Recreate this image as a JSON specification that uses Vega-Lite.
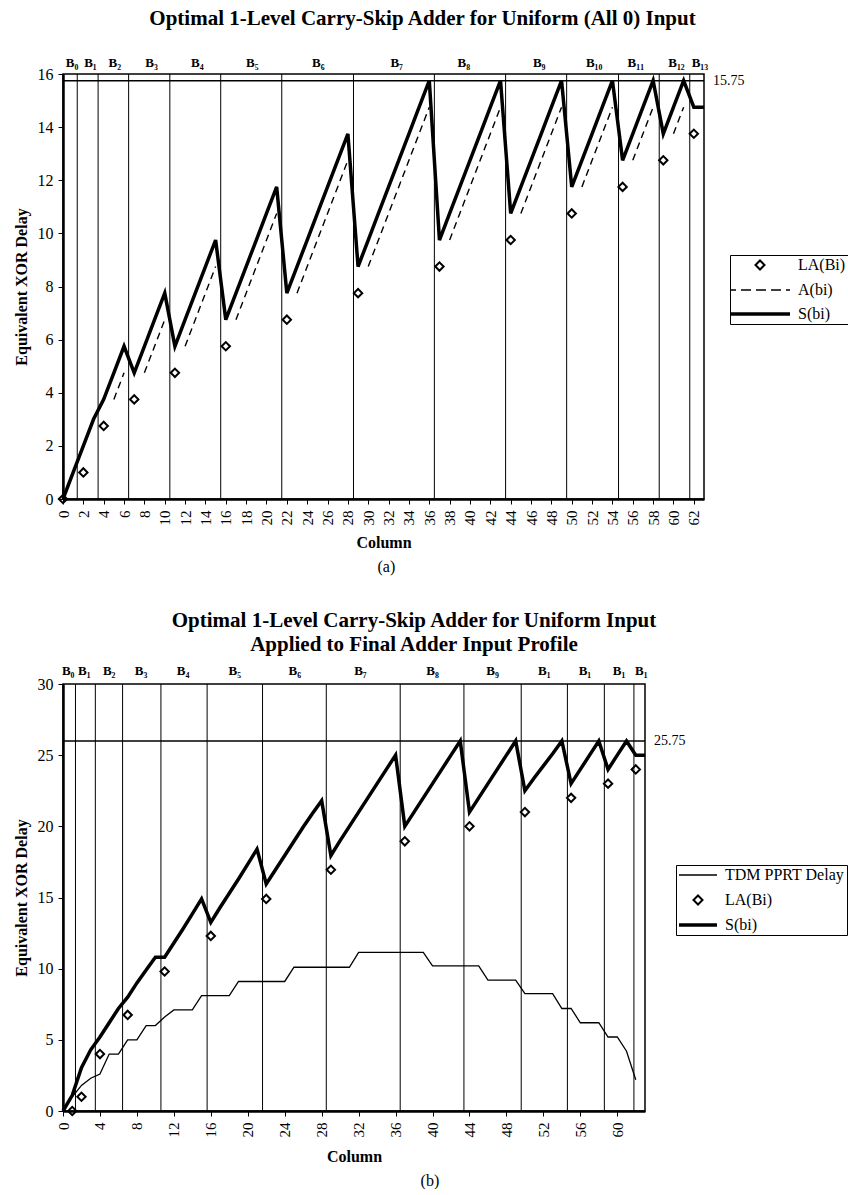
{
  "$schema": "https://vega.github.io/schema/vega-lite/v6.json",
  "padding": {"left": 12, "top": 6, "right": 0, "bottom": 0},
  "background": "white",
  "config": {
    "font": "Liberation Serif",
    "view": {"stroke": "black", "strokeWidth": 1.5},
    "axis": {"grid": false, "domainColor": "black", "domainWidth": 2.5, "tickColor": "black", "tickSize": 5, "labelColor": "black", "titleColor": "black", "labelFont": "Liberation Serif", "titleFont": "Liberation Serif", "titleFontWeight": "bold", "titleFontSize": 16},
    "title": {"font": "Liberation Serif", "color": "black"},
    "legend": {"labelFont": "Liberation Serif", "labelColor": "black"}
  },
  "resolve": {"scale": {"color": "independent"}, "legend": {"color": "independent"}},
  "datasets": {
    "topS": [{"c":0,"v":0},{"c":1,"v":1},{"c":2,"v":2},{"c":3,"v":3},{"c":4,"v":3.75},{"c":5,"v":4.75},{"c":6,"v":5.75},{"c":7,"v":4.75},{"c":8,"v":5.75},{"c":9,"v":6.75},{"c":10,"v":7.75},{"c":11,"v":5.75},{"c":12,"v":6.75},{"c":13,"v":7.75},{"c":14,"v":8.75},{"c":15,"v":9.75},{"c":16,"v":6.75},{"c":17,"v":7.75},{"c":18,"v":8.75},{"c":19,"v":9.75},{"c":20,"v":10.75},{"c":21,"v":11.75},{"c":22,"v":7.75},{"c":23,"v":8.75},{"c":24,"v":9.75},{"c":25,"v":10.75},{"c":26,"v":11.75},{"c":27,"v":12.75},{"c":28,"v":13.75},{"c":29,"v":8.75},{"c":30,"v":9.75},{"c":31,"v":10.75},{"c":32,"v":11.75},{"c":33,"v":12.75},{"c":34,"v":13.75},{"c":35,"v":14.75},{"c":36,"v":15.75},{"c":37,"v":9.75},{"c":38,"v":10.75},{"c":39,"v":11.75},{"c":40,"v":12.75},{"c":41,"v":13.75},{"c":42,"v":14.75},{"c":43,"v":15.75},{"c":44,"v":10.75},{"c":45,"v":11.75},{"c":46,"v":12.75},{"c":47,"v":13.75},{"c":48,"v":14.75},{"c":49,"v":15.75},{"c":50,"v":11.75},{"c":51,"v":12.75},{"c":52,"v":13.75},{"c":53,"v":14.75},{"c":54,"v":15.75},{"c":55,"v":12.75},{"c":56,"v":13.75},{"c":57,"v":14.75},{"c":58,"v":15.75},{"c":59,"v":13.75},{"c":60,"v":14.75},{"c":61,"v":15.75},{"c":62,"v":14.75},{"c":63,"v":14.75}],
    "topA": [{"c":5,"v":3.75,"g":1},{"c":6,"v":4.75,"g":1},
      {"c":8,"v":4.75,"g":2},{"c":9,"v":5.75,"g":2},{"c":10,"v":6.75,"g":2},
      {"c":12,"v":5.75,"g":3},{"c":13,"v":6.75,"g":3},{"c":14,"v":7.75,"g":3},{"c":15,"v":8.75,"g":3},
      {"c":17,"v":6.75,"g":4},{"c":18,"v":7.75,"g":4},{"c":19,"v":8.75,"g":4},{"c":20,"v":9.75,"g":4},{"c":21,"v":10.75,"g":4},
      {"c":23,"v":7.75,"g":5},{"c":24,"v":8.75,"g":5},{"c":25,"v":9.75,"g":5},{"c":26,"v":10.75,"g":5},{"c":27,"v":11.75,"g":5},{"c":28,"v":12.75,"g":5},
      {"c":30,"v":8.75,"g":6},{"c":31,"v":9.75,"g":6},{"c":32,"v":10.75,"g":6},{"c":33,"v":11.75,"g":6},{"c":34,"v":12.75,"g":6},{"c":35,"v":13.75,"g":6},{"c":36,"v":14.75,"g":6},
      {"c":38,"v":9.75,"g":7},{"c":39,"v":10.75,"g":7},{"c":40,"v":11.75,"g":7},{"c":41,"v":12.75,"g":7},{"c":42,"v":13.75,"g":7},{"c":43,"v":14.75,"g":7},
      {"c":45,"v":10.75,"g":8},{"c":46,"v":11.75,"g":8},{"c":47,"v":12.75,"g":8},{"c":48,"v":13.75,"g":8},{"c":49,"v":14.75,"g":8},
      {"c":51,"v":11.75,"g":9},{"c":52,"v":12.75,"g":9},{"c":53,"v":13.75,"g":9},{"c":54,"v":14.75,"g":9},
      {"c":56,"v":12.75,"g":10},{"c":57,"v":13.75,"g":10},{"c":58,"v":14.75,"g":10},
      {"c":60,"v":13.75,"g":11},{"c":61,"v":14.75,"g":11}],
    "topLA": [{"c":0,"v":0},{"c":2,"v":1},{"c":4,"v":2.75},{"c":7,"v":3.75},{"c":11,"v":4.75},{"c":16,"v":5.75},{"c":22,"v":6.75},{"c":29,"v":7.75},{"c":37,"v":8.75},{"c":44,"v":9.75},{"c":50,"v":10.75},{"c":55,"v":11.75},{"c":59,"v":12.75},{"c":62,"v":13.75}],
    "topBounds": [{"c":1.4},{"c":3.45},{"c":6.45},{"c":10.5},{"c":15.5},{"c":21.5},{"c":28.55},{"c":36.5},{"c":43.5},{"c":49.5},{"c":54.6},{"c":58.6},{"c":61.6}],
    "topBlocks": [{"c":0.89,"t":"B₀"},{"c":2.7,"t":"B₁"},{"c":5.1,"t":"B₂"},{"c":8.7,"t":"B₃"},{"c":13.2,"t":"B₄"},{"c":18.6,"t":"B₅"},{"c":25.1,"t":"B₆"},{"c":32.8,"t":"B₇"},{"c":39.4,"t":"B₈"},{"c":46.8,"t":"B₉"},{"c":52.2,"t":"B₁₀"},{"c":56.3,"t":"B₁₁"},{"c":60.3,"t":"B₁₂"},{"c":62.6,"t":"B₁₃"}],
    "topRef": [{"c":63,"v":15.75,"t":"15.75"}],
    "botS": [{"c":0,"v":0},{"c":1,"v":1.1},{"c":2,"v":3.05},{"c":3,"v":4.3},{"c":4,"v":5.2},{"c":5,"v":6.2},{"c":6,"v":7.2},{"c":7,"v":8.0},{"c":8,"v":9.0},{"c":9,"v":9.9},{"c":10,"v":10.8},{"c":11,"v":10.8},{"c":12,"v":11.8},{"c":13,"v":12.8},{"c":14,"v":13.85},{"c":15,"v":14.9},{"c":16,"v":13.25},{"c":17,"v":14.3},{"c":18,"v":15.3},{"c":19,"v":16.3},{"c":20,"v":17.35},{"c":21,"v":18.4},{"c":22,"v":15.95},{"c":23,"v":16.95},{"c":24,"v":17.95},{"c":25,"v":18.95},{"c":26,"v":19.95},{"c":27,"v":20.9},{"c":28,"v":21.8},{"c":29,"v":17.95},{"c":30,"v":19},{"c":31,"v":20},{"c":32,"v":21},{"c":33,"v":22},{"c":34,"v":23},{"c":35,"v":24},{"c":36,"v":25},{"c":37,"v":20},{"c":38,"v":21},{"c":39,"v":22},{"c":40,"v":23},{"c":41,"v":24},{"c":42,"v":25},{"c":43,"v":26},{"c":44,"v":21},{"c":45,"v":22},{"c":46,"v":23},{"c":47,"v":24},{"c":48,"v":25},{"c":49,"v":26},{"c":50,"v":22.5},{"c":51,"v":23.4},{"c":52,"v":24.25},{"c":53,"v":25.1},{"c":54,"v":26},{"c":55,"v":23},{"c":56,"v":24},{"c":57,"v":25},{"c":58,"v":26},{"c":59,"v":24},{"c":60,"v":25},{"c":61,"v":26},{"c":62,"v":25},{"c":63,"v":25}],
    "botT": [{"c":0,"v":0},{"c":1,"v":1.0},{"c":2,"v":1.8},{"c":3,"v":2.3},{"c":4,"v":2.6},{"c":5,"v":4.0},{"c":6,"v":4.0},{"c":7,"v":5.0},{"c":8,"v":5.0},{"c":9,"v":6.0},{"c":10,"v":6.0},{"c":11,"v":6.6},{"c":12,"v":7.1},{"c":13,"v":7.1},{"c":14,"v":7.1},{"c":15,"v":8.1},{"c":16,"v":8.1},{"c":17,"v":8.1},{"c":18,"v":8.1},{"c":19,"v":9.1},{"c":20,"v":9.1},{"c":21,"v":9.1},{"c":22,"v":9.1},{"c":23,"v":9.1},{"c":24,"v":9.1},{"c":25,"v":10.1},{"c":26,"v":10.1},{"c":27,"v":10.1},{"c":28,"v":10.1},{"c":29,"v":10.1},{"c":30,"v":10.1},{"c":31,"v":10.1},{"c":32,"v":11.15},{"c":33,"v":11.15},{"c":34,"v":11.15},{"c":35,"v":11.15},{"c":36,"v":11.15},{"c":37,"v":11.15},{"c":38,"v":11.15},{"c":39,"v":11.15},{"c":40,"v":10.2},{"c":41,"v":10.2},{"c":42,"v":10.2},{"c":43,"v":10.2},{"c":44,"v":10.2},{"c":45,"v":10.2},{"c":46,"v":9.2},{"c":47,"v":9.2},{"c":48,"v":9.2},{"c":49,"v":9.2},{"c":50,"v":8.25},{"c":51,"v":8.25},{"c":52,"v":8.25},{"c":53,"v":8.25},{"c":54,"v":7.2},{"c":55,"v":7.2},{"c":56,"v":6.2},{"c":57,"v":6.2},{"c":58,"v":6.2},{"c":59,"v":5.2},{"c":60,"v":5.2},{"c":61,"v":4.2},{"c":62,"v":2.2}],
    "botLA": [{"c":1,"v":0},{"c":2,"v":1},{"c":4,"v":4},{"c":7,"v":6.75},{"c":11,"v":9.8},{"c":16,"v":12.3},{"c":22,"v":14.9},{"c":29,"v":16.95},{"c":37,"v":18.95},{"c":44,"v":20},{"c":50,"v":21},{"c":55,"v":22},{"c":59,"v":23},{"c":62,"v":24}],
    "botBounds": [{"c":1.35},{"c":3.5},{"c":6.45},{"c":10.6},{"c":15.6},{"c":21.6},{"c":28.5},{"c":36.5},{"c":43.4},{"c":49.6},{"c":54.6},{"c":58.6},{"c":61.8}],
    "botBlocks": [{"c":0.56,"t":"B₀"},{"c":2.3,"t":"B₁"},{"c":5.0,"t":"B₂"},{"c":8.45,"t":"B₃"},{"c":13.0,"t":"B₄"},{"c":18.6,"t":"B₅"},{"c":25.1,"t":"B₆"},{"c":32.2,"t":"B₇"},{"c":40.0,"t":"B₈"},{"c":46.5,"t":"B₉"},{"c":52.1,"t":"B₁"},{"c":56.5,"t":"B₁"},{"c":60.2,"t":"B₁"},{"c":62.6,"t":"B₁"}],
    "botRef": [{"c":63,"v":26,"t":"25.75"}]
  },
  "spacing": 34,
  "vconcat": [
    {
      "title": {"text": "(a)", "orient": "bottom", "anchor": "middle", "fontSize": 16, "fontWeight": "normal", "offset": 8, "dx": -44},
      "vconcat": [
        {
          "title": {"text": "Optimal 1-Level Carry-Skip Adder for Uniform (All 0) Input", "anchor": "middle", "fontSize": 21, "fontWeight": "bold", "dx": 39, "offset": 28},
          "width": 641,
          "height": 425,
          "encoding": {
            "x": {"field": "c", "type": "quantitative", "scale": {"domain": [0, 63], "nice": false}, "axis": {"title": "Column", "values": [0,2,4,6,8,10,12,14,16,18,20,22,24,26,28,30,32,34,36,38,40,42,44,46,48,50,52,54,56,58,60,62], "labelAngle": -90, "labelFontSize": 15, "labelPadding": 6, "titlePadding": 9}}
          },
          "layer": [
            {"data": {"name": "topBounds"}, "mark": {"type": "rule", "color": "black", "strokeWidth": 1}, "encoding": {}},
            {"data": {"name": "topRef"}, "mark": {"type": "rule", "color": "black", "strokeWidth": 1.5},
             "encoding": {"x": null, "y": {"field": "v", "type": "quantitative", "scale": {"domain": [0, 16], "nice": false}, "axis": {"title": "Equivalent XOR Delay", "values": [0,2,4,6,8,10,12,14,16], "labelFontSize": 16, "labelPadding": 5, "titlePadding": 8}}}},
            {"data": {"name": "topRef"}, "mark": {"type": "text", "align": "left", "baseline": "middle", "dx": 9, "fontSize": 14, "color": "black", "clip": false},
             "encoding": {"y": {"field": "v", "type": "quantitative"}, "text": {"field": "t"}}},
            {"data": {"name": "topBlocks"}, "mark": {"type": "text", "align": "center", "baseline": "middle", "fontSize": 13, "fontWeight": "bold", "color": "black", "clip": false},
             "encoding": {"y": {"datum": 16.43, "type": "quantitative"}, "text": {"field": "t"}}},
            {"data": {"name": "topA"}, "mark": {"type": "line", "strokeWidth": 1.4, "strokeDash": [7, 5]},
             "encoding": {"y": {"field": "v", "type": "quantitative"}, "detail": {"field": "g"},
               "color": {"datum": "A(bi)", "scale": {"domain": ["LA(Bi)", "A(bi)", "S(bi)"], "range": ["black", "black", "black"]}}}},
            {"data": {"name": "topS"}, "mark": {"type": "line", "strokeWidth": 3.5},
             "encoding": {
               "y": {"field": "v", "type": "quantitative"},
               "color": {"datum": "S(bi)", "scale": {"domain": ["LA(Bi)", "A(bi)", "S(bi)"], "range": ["black", "black", "black"]},
                 "legend": {"orient": "none", "legendX": 667, "legendY": 181, "title": null, "strokeColor": "black", "fillColor": "white", "padding": 2, "symbolSize": 400, "symbolOffset": 20, "labelOffset": 30, "labelFontSize": 16, "rowPadding": 8,
                   "encode": {"symbols": {"update": {
                     "shape": {"signal": "datum.value === 'LA(Bi)' ? 'M0,-0.45L0.45,0L0,0.45L-0.45,0Z' : (datum.value === 'A(bi)' ? 'M-3,0L-2.4,0M-1.9,0L-0.9,0M-0.4,0L0.6,0M1.1,0L2.1,0M2.6,0L3,0' : 'M-3,0L3,0')"},
                     "strokeWidth": {"signal": "datum.value === 'S(bi)' ? 3.5 : (datum.value === 'LA(Bi)' ? 2 : 1.3)"},
                     "stroke": {"value": "black"},
                     "fill": {"value": "transparent"}}}}}}}},
            {"data": {"name": "topLA"}, "mark": {"type": "point", "shape": "diamond", "size": 70, "filled": false, "strokeWidth": 2, "opacity": 1},
             "encoding": {"y": {"field": "v", "type": "quantitative"},
               "color": {"datum": "LA(Bi)", "scale": {"domain": ["LA(Bi)", "A(bi)", "S(bi)"], "range": ["black", "black", "black"]}}}}
          ]
        }
      ]
    },
    {
      "title": {"text": "(b)", "orient": "bottom", "anchor": "middle", "fontSize": 16, "fontWeight": "normal", "offset": 8, "dx": 0},
      "vconcat": [
        {
          "title": {"text": ["Optimal 1-Level Carry-Skip Adder for Uniform Input", "Applied to Final Adder Input Profile"], "anchor": "middle", "fontSize": 21, "fontWeight": "bold", "lineHeight": 24, "dx": 60, "offset": 10},
          "width": 582,
          "height": 427,
          "encoding": {
            "x": {"field": "c", "type": "quantitative", "scale": {"domain": [0, 63], "nice": false}, "axis": {"title": "Column", "values": [0,4,8,12,16,20,24,28,32,36,40,44,48,52,56,60], "labelAngle": -90, "labelFontSize": 15, "labelPadding": 6, "titlePadding": 11}}
          },
          "layer": [
            {"data": {"name": "botBounds"}, "mark": {"type": "rule", "color": "black", "strokeWidth": 1}, "encoding": {}},
            {"data": {"name": "botRef"}, "mark": {"type": "rule", "color": "black", "strokeWidth": 1.5},
             "encoding": {"x": null, "y": {"field": "v", "type": "quantitative", "scale": {"domain": [0, 30], "nice": false}, "axis": {"title": "Equivalent XOR Delay", "values": [0,5,10,15,20,25,30], "labelFontSize": 16, "labelPadding": 5, "titlePadding": 8}}}},
            {"data": {"name": "botRef"}, "mark": {"type": "text", "align": "left", "baseline": "middle", "dx": 9, "fontSize": 14, "color": "black", "clip": false},
             "encoding": {"y": {"field": "v", "type": "quantitative"}, "text": {"field": "t"}}},
            {"data": {"name": "botBlocks"}, "mark": {"type": "text", "align": "center", "baseline": "middle", "fontSize": 13, "fontWeight": "bold", "color": "black", "clip": false},
             "encoding": {"y": {"datum": 30.9, "type": "quantitative"}, "text": {"field": "t"}}},
            {"data": {"name": "botT"}, "mark": {"type": "line", "strokeWidth": 1.3},
             "encoding": {"y": {"field": "v", "type": "quantitative"},
               "color": {"datum": "TDM PPRT Delay", "scale": {"domain": ["TDM PPRT Delay", "LA(Bi)", "S(bi)"], "range": ["black", "black", "black"]}}}},
            {"data": {"name": "botS"}, "mark": {"type": "line", "strokeWidth": 3.5},
             "encoding": {
               "y": {"field": "v", "type": "quantitative"},
               "color": {"datum": "S(bi)", "scale": {"domain": ["TDM PPRT Delay", "LA(Bi)", "S(bi)"], "range": ["black", "black", "black"]},
                 "legend": {"orient": "none", "legendX": 613, "legendY": 181, "title": null, "strokeColor": "black", "fillColor": "white", "padding": 2, "symbolSize": 400, "symbolOffset": 12, "labelOffset": 19, "labelFontSize": 16, "rowPadding": 8,
                   "encode": {"symbols": {"update": {
                     "shape": {"signal": "datum.value === 'LA(Bi)' ? 'M0,-0.45L0.45,0L0,0.45L-0.45,0Z' : 'M-1.9,0L1.9,0'"},
                     "strokeWidth": {"signal": "datum.value === 'S(bi)' ? 3.5 : (datum.value === 'LA(Bi)' ? 2 : 1.3)"},
                     "stroke": {"value": "black"},
                     "fill": {"value": "transparent"}}}}}}}},
            {"data": {"name": "botLA"}, "mark": {"type": "point", "shape": "diamond", "size": 70, "filled": false, "strokeWidth": 2, "opacity": 1},
             "encoding": {"y": {"field": "v", "type": "quantitative"},
               "color": {"datum": "LA(Bi)", "scale": {"domain": ["TDM PPRT Delay", "LA(Bi)", "S(bi)"], "range": ["black", "black", "black"]}}}}
          ]
        }
      ]
    }
  ]
}
